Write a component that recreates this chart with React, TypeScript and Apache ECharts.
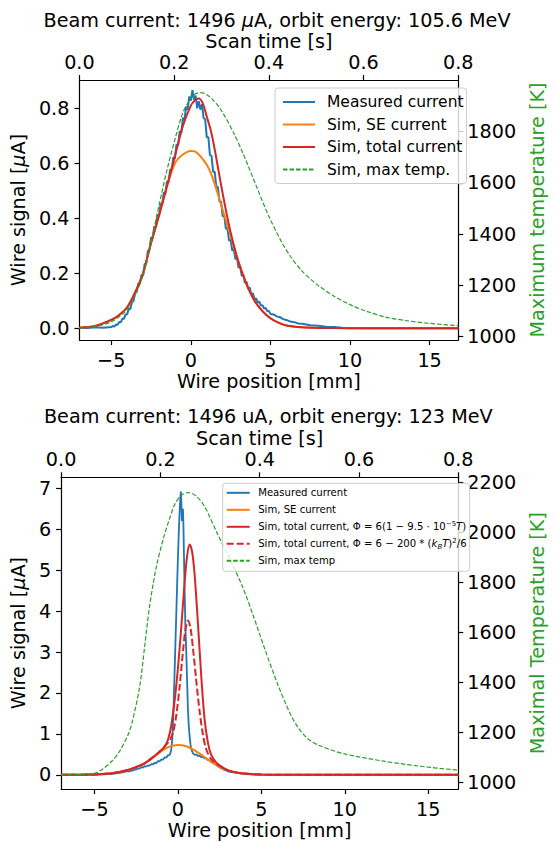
import { useEffect, useRef } from "react";
import * as echarts from "echarts";

const FONT = "'DejaVu Sans', sans-serif";
const BLUE = "#1f77b4";
const ORANGE = "#ff7f0e";
const GREEN = "#2ca02c";
const RED = "#d62728";
const FS = 19.2;

// ---------------- Panel 1 ----------------
const topTitle = "Beam current: 1496 {it|μ}A, orbit energy: 105.6 MeV";
const positionTicks = [-5, 0, 5, 10, 15];
const topSignalTicks = [0, 0.2, 0.4, 0.6, 0.8];
const topTempTicks = [1000, 1200, 1400, 1600, 1800];

const topMeasured = [
  [-7, 0.002], [-6.5, 0.001], [-6, 0.003], [-5.5, 0.002],
  [-5.0, 0.004], [-4.9, 0.008], [-4.8, 0.006], [-4.7, 0.013], [-4.6, 0.012], [-4.5, 0.023], [-4.4, 0.021], [-4.3, 0.035], [-4.2, 0.034], [-4.1, 0.05],
  [-4.0, 0.051], [-3.9, 0.069], [-3.8, 0.07], [-3.7, 0.094], [-3.6, 0.099], [-3.5, 0.133], [-3.4, 0.132], [-3.3, 0.163], [-3.2, 0.162], [-3.1, 0.195],
  [-3.0, 0.19], [-2.9, 0.234], [-2.8, 0.236], [-2.7, 0.281], [-2.6, 0.284], [-2.5, 0.33], [-2.4, 0.327], [-2.3, 0.37], [-2.2, 0.366], [-2.1, 0.413],
  [-2.0, 0.408], [-1.9, 0.453], [-1.8, 0.449], [-1.7, 0.494], [-1.6, 0.487], [-1.5, 0.534], [-1.4, 0.53], [-1.3, 0.578], [-1.2, 0.572], [-1.1, 0.622],
  [-1.0, 0.617], [-0.9, 0.669], [-0.8, 0.664], [-0.7, 0.717], [-0.6, 0.71], [-0.5, 0.766], [-0.4, 0.756], [-0.3, 0.806], [-0.2, 0.795], [-0.1, 0.843],
  [0.0, 0.828], [0.1, 0.866], [0.2, 0.831], [0.3, 0.846], [0.4, 0.8], [0.5, 0.826], [0.6, 0.795], [0.7, 0.815], [0.8, 0.765], [0.9, 0.76],
  [1.0, 0.695], [1.1, 0.695], [1.2, 0.63], [1.3, 0.627], [1.4, 0.569], [1.5, 0.569], [1.6, 0.514], [1.7, 0.514], [1.8, 0.46], [1.9, 0.461],
  [2.0, 0.407], [2.1, 0.41], [2.2, 0.362], [2.3, 0.364], [2.4, 0.319], [2.5, 0.321], [2.6, 0.282], [2.7, 0.288], [2.8, 0.251], [2.9, 0.255],
  [3.0, 0.22], [3.1, 0.225], [3.2, 0.19], [3.3, 0.195], [3.4, 0.164], [3.5, 0.169], [3.6, 0.142], [3.7, 0.148], [3.8, 0.123], [3.9, 0.127],
  [4.0, 0.104], [4.1, 0.109], [4.2, 0.093], [4.3, 0.097], [4.4, 0.082], [4.5, 0.084], [4.6, 0.071], [4.7, 0.074], [4.8, 0.062], [4.9, 0.063],
  [5.0, 0.052], [5.2, 0.05], [5.4, 0.043], [5.6, 0.04], [5.8, 0.033], [6.0, 0.03], [6.25, 0.024], [6.5, 0.022], [6.75, 0.017], [7.0, 0.016],
  [7.5, 0.011], [8.0, 0.009], [8.5, 0.005], [9.0, 0.004], [9.5, 0.002], [10, 0.001], [11, 0], [13, 0], [16.8, 0],
];

const topSimPos = [-7, -6, -5, -4.5, -4, -3.5, -3, -2.5, -2, -1.5, -1, -0.5, 0, 0.25, 0.5, 0.75, 1, 1.25, 1.5, 2, 2.5, 3, 3.5, 4, 4.5, 5, 5.5, 6, 7, 8, 10, 13, 16.8];
const topSE = [0.002, 0.008, 0.03, 0.048, 0.076, 0.13, 0.2, 0.31, 0.41, 0.515, 0.6, 0.632, 0.645, 0.643, 0.632, 0.615, 0.595, 0.565, 0.525, 0.43, 0.335, 0.24, 0.16, 0.1, 0.062, 0.036, 0.02, 0.01, 0.003, 0.001, 0, 0, 0];
const topTotal = [0.002, 0.008, 0.03, 0.048, 0.076, 0.13, 0.2, 0.31, 0.41, 0.517, 0.626, 0.736, 0.81, 0.828, 0.836, 0.818, 0.77, 0.72, 0.65, 0.49, 0.348, 0.24, 0.16, 0.1, 0.062, 0.036, 0.02, 0.01, 0.003, 0.001, 0, 0, 0];

const topTempPos = [-7, -6, -5, -4, -3.5, -3, -2.5, -2, -1.5, -1, -0.5, 0, 0.3, 0.6, 0.9, 1.3, 1.9, 2.7, 3.3, 4.1, 4.9, 5.7, 6.3, 7, 8, 9, 10, 11, 12.2, 13.5, 15, 16.8];
const topTemp = [1033, 1040, 1058, 1105, 1160, 1240, 1368, 1513, 1650, 1770, 1875, 1930, 1948, 1953, 1948, 1930, 1885, 1794, 1712, 1590, 1470, 1370, 1310, 1255, 1200, 1158, 1125, 1100, 1077, 1063, 1052, 1043];

// ---------------- Panel 2 ----------------
const bottomTitle = "Beam current: 1496 uA, orbit energy: 123 MeV";
const bottomSignalTicks = [0, 1, 2, 3, 4, 5, 6, 7];
const bottomTempTicks = [1000, 1200, 1400, 1600, 1800, 2000, 2200];

const bottomMeasured = [
  [-7, 0], [-6.5, 0.002], [-6, 0.001], [-5.5, 0.004], [-5, 0.005], [-4.5, 0.01], [-4.2, 0.016], [-4, 0.02], [-3.8, 0.03], [-3.6, 0.041],
  [-3.4, 0.055], [-3.2, 0.07], [-3.0, 0.09], [-2.9, 0.085], [-2.8, 0.108], [-2.7, 0.104], [-2.6, 0.134], [-2.5, 0.13], [-2.4, 0.16], [-2.3, 0.152],
  [-2.2, 0.186], [-2.1, 0.178], [-2.0, 0.21], [-1.9, 0.2], [-1.8, 0.232], [-1.7, 0.224], [-1.6, 0.262], [-1.5, 0.253], [-1.4, 0.292], [-1.3, 0.288],
  [-1.2, 0.334], [-1.1, 0.327], [-1.0, 0.373], [-0.9, 0.372], [-0.8, 0.424], [-0.7, 0.42], [-0.6, 0.475], [-0.5, 0.49], [-0.45, 0.53], [-0.4, 0.62],
  [-0.35, 0.8], [-0.3, 1.2], [-0.25, 1.8], [-0.2, 2.5], [-0.15, 3.2], [-0.1, 3.9], [-0.05, 4.6], [0, 5.3], [0.05, 5.9], [0.1, 6.4],
  [0.15, 6.8], [0.18, 6.92], [0.21, 6.6], [0.24, 6.2], [0.27, 6.4], [0.3, 6.5], [0.33, 6.1], [0.36, 5.4], [0.4, 4.5], [0.45, 3.6],
  [0.5, 3.0], [0.55, 2.3], [0.6, 1.6], [0.65, 1.2], [0.7, 0.95], [0.75, 0.75], [0.8, 0.62], [0.9, 0.53], [1.0, 0.49], [1.1, 0.5],
  [1.2, 0.46], [1.3, 0.47], [1.4, 0.43], [1.5, 0.44], [1.6, 0.4], [1.7, 0.4], [1.8, 0.36], [1.9, 0.355], [2.0, 0.31], [2.1, 0.3],
  [2.2, 0.26], [2.3, 0.245], [2.4, 0.205], [2.5, 0.19], [2.6, 0.155], [2.7, 0.145], [2.8, 0.115], [2.9, 0.108], [3.0, 0.085], [3.3, 0.06],
  [3.6, 0.04], [4.0, 0.02], [4.5, 0.01], [5, 0.004], [6, 0.001], [8, 0], [16.8, 0],
];

const bottomSEPos = [-7, -6, -5, -4, -3.5, -3, -2.5, -2, -1.5, -1, -0.5, 0, 0.5, 1, 1.5, 2, 2.5, 3, 3.5, 4, 4.5, 5, 6, 8, 16.8];
const bottomSE = [0, 0.003, 0.01, 0.04, 0.07, 0.12, 0.19, 0.28, 0.42, 0.58, 0.69, 0.73, 0.7, 0.6, 0.46, 0.32, 0.19, 0.11, 0.06, 0.03, 0.014, 0.006, 0.001, 0, 0];

const bottomTotalPos = [-7, -6, -5, -4.5, -4, -3.5, -3, -2.5, -2, -1.5, -1, -0.8, -0.6, -0.4, -0.2, 0, 0.2, 0.4, 0.55, 0.7, 0.85, 1.0, 1.2, 1.4, 1.6, 1.8, 2.0, 2.3, 2.6, 3, 3.5, 4, 4.5, 5, 6, 8, 16.8];
const bottomTotal = [0, 0.003, 0.01, 0.02, 0.04, 0.07, 0.12, 0.19, 0.28, 0.43, 0.6, 0.69, 0.85, 1.2, 1.8, 2.6, 3.6, 4.7, 5.35, 5.63, 5.45, 4.9, 3.7, 2.4, 1.35, 0.78, 0.48, 0.3, 0.2, 0.11, 0.06, 0.03, 0.014, 0.006, 0.001, 0, 0];

const bottomTotal2Pos = [-7, -6, -5, -4.5, -4, -3.5, -3, -2.5, -2, -1.5, -1, -0.8, -0.5, -0.3, -0.1, 0.1, 0.3, 0.45, 0.6, 0.75, 0.9, 1.1, 1.3, 1.5, 1.7, 2.0, 2.3, 2.6, 3, 3.5, 4, 4.5, 5, 6, 8, 16.8];
const bottomTotal2 = [0, 0.003, 0.01, 0.02, 0.04, 0.07, 0.12, 0.19, 0.28, 0.43, 0.6, 0.69, 0.84, 1.02, 1.45, 2.15, 3.0, 3.55, 3.77, 3.6, 3.1, 2.3, 1.55, 0.98, 0.62, 0.38, 0.27, 0.2, 0.11, 0.06, 0.03, 0.014, 0.006, 0.001, 0, 0];

const bottomTempPos = [-7, -6, -5, -4.5, -3.9, -3.5, -3, -2.75, -2.3, -2.0, -1.71, -1.3, -0.86, -0.5, -0.2, 0.2, 0.65, 1.1, 1.6, 2.35, 3.1, 3.86, 4.5, 5.2, 6, 6.7, 7.2, 7.8, 8.5, 10, 12.35, 14.5, 16.8];
const bottomTemp = [1031, 1033, 1038, 1055, 1090, 1125, 1190, 1240, 1380, 1540, 1700, 1860, 1978, 2055, 2110, 2148, 2159, 2145, 2103, 1997, 1895, 1785, 1670, 1535, 1390, 1280, 1220, 1175, 1148, 1115, 1086, 1066, 1050];

// legend names
const N_MEAS = "Measured current";
const N_SE = "Sim, SE current";
const N_TOT = "Sim, total current";
const N_TEMP1 = "Sim, max temp.";
const N_TOT1 = "Sim, total current, Φ = 6(1 − 9.5·10^−5 T)";
const N_TOT2 = "Sim, total current, Φ = 6 − 200*(k_B T)^2/6";
const N_TEMP2 = "Sim, max temp";

const zip = (xs: number[], ys: number[]) => xs.map((x, i) => [x, ys[i]]);
const fmtPos = (v: number) => (v < 0 ? "\u2212" + Math.abs(v) : String(v));

function axis(c: any) {
  const label: any = { color: "#000", fontFamily: FONT, fontSize: FS, lineHeight: 20, margin: c.margin, formatter: c.fmt };
  const tick: any = { show: true, inside: false, length: 5, lineStyle: { color: "#000", width: 1.2 } };
  if (c.ticks) {
    label.customValues = c.ticks;
    tick.customValues = c.ticks;
  }
  const a: any = {
    type: "value",
    gridIndex: c.grid,
    position: c.position,
    min: c.min,
    max: c.max,
    name: c.name,
    nameLocation: "middle",
    nameGap: c.nameGap,
    nameTextStyle: {
      fontFamily: FONT,
      fontSize: FS,
      lineHeight: 20,
      color: c.nameColor || "#000",
      rich: { it: { fontStyle: "italic", fontFamily: FONT, fontSize: FS, lineHeight: 20, color: c.nameColor || "#000" } },
    },
    axisLine: { show: true, onZero: false, lineStyle: { color: "#000", width: 1.2 } },
    axisTick: tick,
    axisLabel: label,
    splitLine: { show: false },
  };
  if (c.interval) a.interval = c.interval;
  if (c.nameRotate !== undefined) a.nameRotate = c.nameRotate;
  return a;
}

function line(name: string, data: any[], xi: number, yi: number, color: string, width: number, dash?: number[], smooth?: boolean) {
  return {
    type: "line",
    name,
    data,
    xAxisIndex: xi,
    yAxisIndex: yi,
    showSymbol: false,
    symbol: "none",
    color,
    itemStyle: { color },
    lineStyle: { color, width, type: dash || "solid" },
    smooth: smooth ? 0.3 : false,
    silent: true,
  };
}

const LFS = 10.1;
const richSmall = {
  it: { fontStyle: "italic", fontFamily: FONT, fontSize: LFS, lineHeight: 13, color: "#000" },
  sup: { fontFamily: FONT, fontSize: 7, lineHeight: 13, verticalAlign: "top", color: "#000" },
  sub: { fontFamily: FONT, fontSize: 7, fontStyle: "italic", lineHeight: 13, verticalAlign: "bottom", color: "#000" },
};
const bottomLegendText: Record<string, string> = {
  [N_TOT1]: "Sim, total current, Φ = 6(1 − 9.5 · 10{sup|−5}{it|T})",
  [N_TOT2]: "Sim, total current, Φ = 6 − 200 * ({it|k}{sub|B}{it|T}){sup|2}/6",
};

function buildOption(): any {
  return {
    animation: false,
    backgroundColor: "#fff",
    textStyle: { fontFamily: FONT },
    grid: [
      { left: 77, top: 80, width: 400, height: 260 },
      { left: 58.3, top: 477.3, width: 420, height: 313.4 },
    ],
    xAxis: [
      axis({ grid: 0, position: "bottom", min: -7, max: 16.8, ticks: positionTicks, fmt: fmtPos, name: "Wire position [mm]", nameGap: 31, margin: 10 }),
      axis({ grid: 0, position: "top", min: 0, max: 0.8, interval: 0.2, fmt: (v: number) => v.toFixed(1), name: "Scan time [s]", nameGap: 29, margin: 8 }),
      axis({ grid: 1, position: "bottom", min: -7, max: 16.8, ticks: positionTicks, fmt: fmtPos, name: "Wire position [mm]", nameGap: 31, margin: 10 }),
      axis({ grid: 1, position: "top", min: 0, max: 0.8, interval: 0.2, fmt: (v: number) => v.toFixed(1), name: "Scan time [s]", nameGap: 27.5, margin: 8 }),
    ],
    yAxis: [
      axis({ grid: 0, position: "left", min: -0.043, max: 0.903, ticks: topSignalTicks, fmt: (v: number) => v.toFixed(1), name: "Wire signal [{it|μ}A]", nameGap: 44.5, margin: 10, nameRotate: 90 }),
      axis({ grid: 0, position: "right", min: 987, max: 2002, ticks: topTempTicks, fmt: (v: number) => String(v), name: "Maximum temperature [K]", nameGap: 59.5, margin: 9, nameColor: GREEN, nameRotate: 90 }),
      axis({ grid: 1, position: "left", min: -0.346, max: 7.27, ticks: bottomSignalTicks, fmt: (v: number) => String(v), name: "Wire signal [{it|μ}A]", nameGap: 25, margin: 10, nameRotate: 90 }),
      axis({ grid: 1, position: "right", min: 975, max: 2220, ticks: bottomTempTicks, fmt: (v: number) => String(v), name: "Maximal Temperature [K]", nameGap: 58.5, margin: 9, nameColor: GREEN, nameRotate: 90 }),
    ],
    legend: [
      {
        data: [N_MEAS, N_SE, N_TOT, N_TEMP1],
        orient: "vertical",
        left: 275,
        top: 88,
        itemWidth: 32,
        itemHeight: 12,
        itemGap: 4.5,
        padding: [5, 3, 5, 7],
        backgroundColor: "rgba(255,255,255,0.8)",
        borderColor: "#cccccc",
        borderWidth: 1,
        borderRadius: 3,
        selectedMode: false,
        itemStyle: { opacity: 0 },
        textStyle: { fontFamily: FONT, fontSize: 15.5, lineHeight: 18, color: "#000", padding: [0, 0, 0, 7] },
      },
      {
        data: [N_MEAS, N_SE, N_TOT1, N_TOT2, N_TEMP2],
        orient: "vertical",
        left: 222.7,
        top: 483.3,
        itemWidth: 23,
        itemHeight: 10,
        itemGap: 4,
        padding: [3, 3, 4, 3],
        backgroundColor: "rgba(255,255,255,0.8)",
        borderColor: "#cccccc",
        borderWidth: 1,
        borderRadius: 3,
        selectedMode: false,
        itemStyle: { opacity: 0 },
        formatter: (n: string) => bottomLegendText[n] ?? n,
        textStyle: { fontFamily: FONT, fontSize: LFS, lineHeight: 13, color: "#000", padding: [0, 0, 0, 3.5], rich: richSmall },
      },
    ],
    graphic: [
      {
        type: "text",
        x: 277,
        y: 20,
        silent: true,
        style: {
          text: topTitle,
          fontFamily: FONT,
          fontSize: FS,
          lineHeight: 19,
          fill: "#000",
          align: "center",
          verticalAlign: "middle",
          rich: { it: { fontStyle: "italic", fontFamily: FONT, fontSize: FS, lineHeight: 19, fill: "#000" } },
        },
      },
      {
        type: "text",
        x: 268.3,
        y: 416.5,
        silent: true,
        style: { text: bottomTitle, fontFamily: FONT, fontSize: FS, lineHeight: 19, fill: "#000", align: "center", verticalAlign: "middle" },
      },
    ],
    series: [
      line(N_MEAS, topMeasured, 0, 0, BLUE, 2),
      line(N_SE, zip(topSimPos, topSE), 0, 0, ORANGE, 2, undefined, true),
      line(N_TOT, zip(topSimPos, topTotal), 0, 0, RED, 2, undefined, true),
      line(N_TEMP1, zip(topTempPos, topTemp), 0, 1, GREEN, 1.2, [4.5, 2], true),

      line(N_MEAS, bottomMeasured, 2, 2, BLUE, 1.8),
      line(N_SE, zip(bottomSEPos, bottomSE), 2, 2, ORANGE, 2, undefined, true),
      line(N_TOT1, zip(bottomTotalPos, bottomTotal), 2, 2, RED, 2, undefined, true),
      line(N_TOT2, zip(bottomTotal2Pos, bottomTotal2), 2, 2, RED, 2, [7, 3], true),
      line(N_TEMP2, zip(bottomTempPos, bottomTemp), 2, 3, GREEN, 1.2, [4.5, 2], true),
    ],
  };
}

export default function App() {
  const ref = useRef<HTMLDivElement>(null);
  useEffect(() => {
    if (!ref.current) return;
    const chart = echarts.init(ref.current, null, { renderer: "svg" });
    chart.setOption(buildOption());
    return () => chart.dispose();
  }, []);
  return (
    <div
      ref={ref}
      style={{ position: "fixed", left: 0, top: 0, width: 555, height: 841, background: "#fff" }}
    />
  );
}
